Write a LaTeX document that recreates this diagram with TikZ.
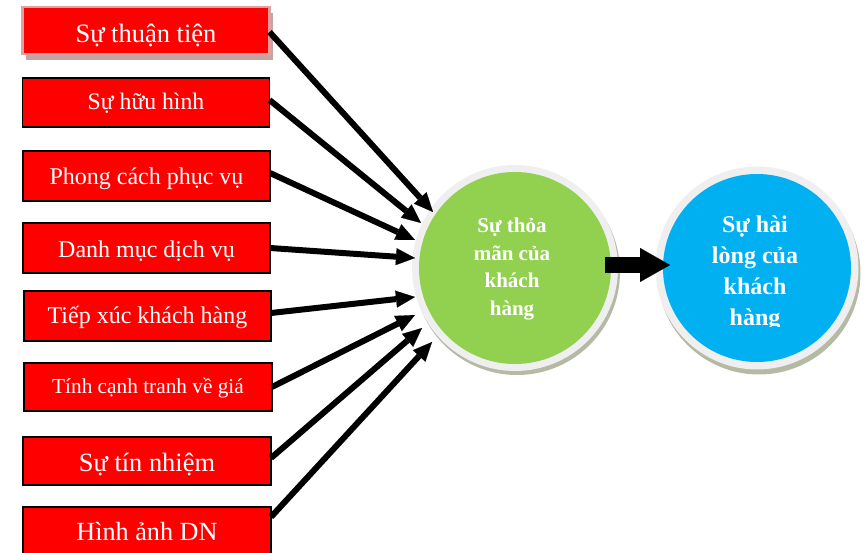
\documentclass[tikz,border=0pt]{standalone}
\usepackage{fontspec}
\setmainfont{Liberation Serif}
\usetikzlibrary{arrows.meta}

\definecolor{boxred}{HTML}{FF0000}
\definecolor{ringgray}{HTML}{EFEFEF}
\definecolor{satgreen}{HTML}{92D050}
\definecolor{loyblue}{HTML}{00B0F0}
\definecolor{oliveshade}{HTML}{B4BAA4}
\definecolor{pinkedge}{HTML}{E0A0A0}
\definecolor{pinkshade}{HTML}{C4A4A4}

\tikzset{
  factor/.style={draw=black, line width=1.5pt, fill=boxred, text=white,
    minimum width=247pt, minimum height=48pt, inner sep=0pt, outer sep=0pt,
    text depth=0pt},
  ring/.style={circle, fill=ringgray, inner sep=0pt, outer sep=0pt},
  disc/.style={circle, inner sep=0pt, outer sep=0pt},
  shade/.style={circle, fill=oliveshade, inner sep=0pt, outer sep=0pt},
  disctext/.style={text=white, align=center, inner sep=0pt},
  conn/.style={line width=6pt, -{Triangle[length=19pt,width=17pt,line width=0.1pt]}},
  bigconn/.style={line width=16pt, -{Triangle[length=30pt,width=34pt,line width=0.1pt]}},
}

\begin{document}
\begin{tikzpicture}[x=1pt, y=-1pt]
  \path[use as bounding box] (0,0) rectangle (865,553);
  \clip (0,0) rectangle (865,553);

  % factor boxes
  \node[fill=pinkshade, minimum width=247pt, minimum height=47pt, inner sep=0pt] (b1shade) at (149,37) {};
  \node[factor, draw=pinkedge, line width=2.5pt, minimum height=47pt,
        font=\fontsize{26.5}{30}\selectfont, text height=24pt] (b1) at (146,30.5) {Sự thuận tiện};
  \node[factor, minimum height=49pt, font=\fontsize{23.7}{28}\selectfont, text height=15pt]
        (b2) at (146,102.5) {Sự hữu hình};
  \node[factor, minimum height=50pt, font=\fontsize{24}{28}\selectfont, text height=18pt]
        (b3) at (146.5,176) {Phong cách phục vụ};
  \node[factor, minimum height=50pt, font=\fontsize{24}{28}\selectfont, text height=18.6pt]
        (b4) at (146.5,248) {Danh mục dịch vụ};
  \node[factor, minimum height=50pt, font=\fontsize{24}{28}\selectfont, text height=16pt]
        (b5) at (147.5,316) {Tiếp xúc khách hàng};
  \node[factor, minimum width=248pt, font=\fontsize{21.3}{25}\selectfont, text height=12.6pt]
        (b6) at (148,387) {Tính cạnh tranh về giá};
  \node[factor, minimum width=248pt, font=\fontsize{26.4}{30}\selectfont, text height=21.4pt]
        (b7) at (147,461) {Sự tín nhiệm};
  \node[factor, minimum width=248pt, font=\fontsize{26.2}{30}\selectfont, text height=19.4pt]
        (b8) at (147,531) {Hình ảnh DN};

  % satisfaction circle
  \node[shade, minimum size=206pt] (gshade) at (517,272) {};
  \node[ring, minimum size=206pt] (gring) at (515,268) {};
  \node[disc, fill=satgreen, minimum size=192pt] (green) at (515,268) {};
  \node[disctext, font=\bfseries\fontsize{21}{27.7}\selectfont]
        (gtext) at ([xshift=-3pt,yshift=-1pt]green.center) {Sự thỏa\\mãn của\\khách\\hàng};

  % loyalty circle
  \node[shade, minimum size=203pt] (bshade) at (759,273) {};
  \node[ring, minimum size=203pt] (bring) at (757,268) {};
  \node[disc, fill=loyblue, minimum size=188pt] (blue) at (757,268) {};
  \begin{scope}
    \clip (600,0) rectangle (865,327);
    \node[disctext, font=\bfseries\fontsize{24}{31}\selectfont]
          (btext) at ([xshift=-2pt,yshift=-5.5pt]blue.center) {Sự hài\\lòng của\\khách\\hàng};
  \end{scope}

  % connectors into the satisfaction circle
  \draw[conn] ([yshift=-1.5pt]b1.east) -- ([shift={(-82,-56)}]gring.center);
  \draw[conn] ([yshift=2.5pt]b2.east)  -- ([shift={(-94,-45)}]gring.center);
  \draw[conn] ([yshift=3pt]b3.east)    -- ([shift={(-100,-28)}]gring.center);
  \draw[conn] (b4.east)                -- ([shift={(-100,-10)}]gring.center);
  \draw[conn] ([yshift=3pt]b5.east)    -- ([shift={(-100,29)}]gring.center);
  \draw[conn] (b6.east)                -- ([shift={(-100,47)}]gring.center);
  \draw[conn] ([yshift=3pt]b7.east)    -- ([shift={(-93,60)}]gring.center);
  \draw[conn] ([yshift=14pt]b8.east)   -- ([shift={(-83,74)}]gring.center);

  % satisfaction leads to loyalty
  \draw[bigconn] ([xshift=-6pt,yshift=3pt]green.east) -- ([xshift=7pt,yshift=3pt]blue.west);
\end{tikzpicture}
\end{document}
